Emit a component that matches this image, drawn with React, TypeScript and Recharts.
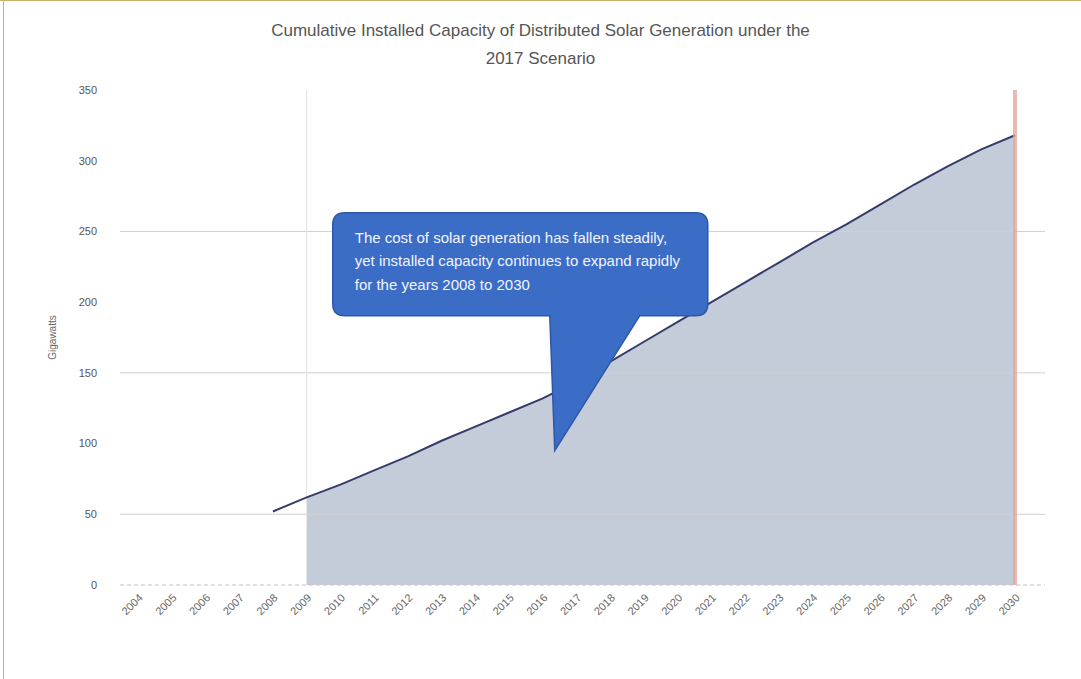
import {
  ComposedChart,
  Area,
  Line,
  XAxis,
  YAxis,
  ReferenceLine,
  ReferenceDot,
} from "recharts";

const years = [
  "2004", "2005", "2006", "2007", "2008", "2009", "2010", "2011", "2012",
  "2013", "2014", "2015", "2016", "2017", "2018", "2019", "2020", "2021",
  "2022", "2023", "2024", "2025", "2026", "2027", "2028", "2029", "2030",
];

// installed capacity, GW (no data before 2008)
const capacity = [
  null, null, null, null, 52, 62, 71, 81, 91,
  102, 112, 122, 132, 144, 158, 172, 186, 200,
  214, 228, 242, 255, 269, 283, 296, 308, 318,
];

const shadedFrom = "2009";
const endYear = "2030";
const yTicks = [0, 50, 100, 150, 200, 250, 300, 350];
const gridValues = [50, 150, 250];

const titleLines = [
  "Cumulative Installed Capacity of Distributed Solar Generation under the",
  "2017 Scenario",
];

const noteLines = [
  "The cost of solar generation has fallen steadily,",
  "yet installed capacity continues to expand rapidly",
  "for the years 2008 to 2030",
];
const noteAnchor = { year: "2016", value: 95 };

const data = years.map((year, i) => ({
  year,
  capacity: capacity[i],
  shaded: year >= shadedFrom ? capacity[i] : null,
}));

const font = '"Liberation Sans", Arial, sans-serif';

// speech bubble whose pointer tip sits on the anchor point
function Callout(props: any) {
  const x = props.cx + 12;
  const y = props.cy;
  const left = x - 222;
  const right = x + 153;
  const top = y - 238;
  const bottom = y - 135;
  const r = 12;
  const d = [
    `M${left + r},${top}`,
    `H${right - r}`,
    `Q${right},${top} ${right},${top + r}`,
    `V${bottom - r}`,
    `Q${right},${bottom} ${right - r},${bottom}`,
    `H${x + 85}`,
    `L${x},${y}`,
    `L${x - 5},${bottom}`,
    `H${left + r}`,
    `Q${left},${bottom} ${left},${bottom - r}`,
    `V${top + r}`,
    `Q${left},${top} ${left + r},${top}`,
    "Z",
  ].join(" ");
  return (
    <g>
      <path d={d} fill="#3b6cc6" stroke="#2c58a8" strokeWidth={1.5} />
      {noteLines.map((line, i) => (
        <text
          key={i}
          x={left + 22}
          y={top + 30 + i * 23.5}
          fill="#f2f5ff"
          fontSize={15}
          fontFamily={font}
        >
          {line}
        </text>
      ))}
    </g>
  );
}

export default function App() {
  return (
    <div
      style={{
        position: "absolute",
        left: 0,
        top: 0,
        width: 1081,
        height: 679,
        background: "#fff",
        borderTop: "1px solid #c8b46a",
        boxSizing: "border-box",
        fontFamily: font,
      }}
    >
      <div
        style={{
          position: "absolute",
          left: 3,
          top: 0,
          width: 1,
          height: 679,
          background: "#b0b0b0",
        }}
      />
      <div
        style={{
          position: "absolute",
          top: 16,
          left: 0,
          width: 1081,
          textAlign: "center",
          color: "#555",
          fontSize: 17,
          lineHeight: "28px",
        }}
      >
        {titleLines.map((t) => (
          <div key={t}>{t}</div>
        ))}
      </div>
      <ComposedChart
        width={1081}
        height={678}
        data={data}
        margin={{ top: 89, right: 36, left: 40, bottom: 24 }}
      >
        {gridValues.map((v) => (
          <ReferenceLine key={v} y={v} stroke="#d0d0d0" strokeWidth={1} />
        ))}
        <ReferenceLine x={shadedFrom} stroke="#e4e4e4" strokeWidth={1} />
        <XAxis
          dataKey="year"
          interval={0}
          padding={{ left: 18, right: 30 }}
          tickLine={false}
          tickSize={4}
          tickMargin={4}
          angle={-45}
          textAnchor="end"
          tick={{ fontSize: 11, fill: "#666", fontFamily: font }}
          axisLine={{ stroke: "#c4c4c4", strokeDasharray: "4 3" }}
          height={70}
        />
        <YAxis
          ticks={yTicks}
          domain={[0, 350]}
          width={80}
          tickLine={false}
          axisLine={false}
          tickSize={0}
          tickMargin={23}
          tick={{ fontSize: 11, fill: "#555", fontFamily: font }}
          label={{
            value: "Gigawatts",
            angle: -90,
            position: "insideLeft",
            offset: 12,
            style: { fontSize: 10, fill: "#666", fontFamily: font, textAnchor: "middle" },
          }}
        />
        <Area
          type="linear"
          dataKey="shaded"
          fill="#c5ccd9"
          fillOpacity={1}
          stroke="none"
          isAnimationActive={false}
        />
        <Line
          type="linear"
          dataKey="capacity"
          stroke="#363b6b"
          strokeWidth={2}
          dot={false}
          isAnimationActive={false}
        />
        <ReferenceLine x={endYear} stroke="#e3a294" strokeWidth={4} strokeOpacity={0.75} />
        <ReferenceDot
          x={noteAnchor.year}
          y={noteAnchor.value}
          ifOverflow="visible"
          shape={Callout}
        />
      </ComposedChart>
    </div>
  );
}
